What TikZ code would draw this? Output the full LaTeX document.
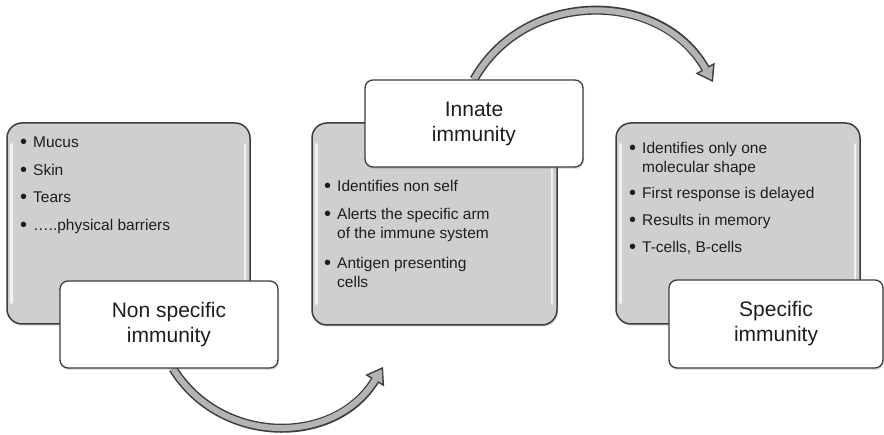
\documentclass[tikz,border=0pt]{standalone}
\usepackage{fontspec}
\setmainfont{Liberation Sans}
\usetikzlibrary{arrows.meta,shadows,backgrounds}
\definecolor{boxgray}{HTML}{CFCFCF}
\definecolor{edge}{HTML}{3C3C3C}
\definecolor{arrgray}{HTML}{B4B4B4}
\definecolor{txt}{HTML}{1E1E1E}
\newcommand\bul{\llap{\raisebox{-0.8pt}{\fontsize{20}{20}\selectfont\textbullet}\hspace{6pt}}}
\begin{document}
\begin{tikzpicture}[x=1pt,y=-1pt,
  graybox/.style={draw=edge, line width=1.5pt, fill=boxgray, rounded corners=15pt, inner sep=0pt,
    drop shadow={opacity=0.18, shadow xshift=1pt, shadow yshift=-2pt}},
  labelbox/.style={draw=edge, line width=1.3pt, fill=white, rounded corners=8pt, align=center,
    inner sep=0pt, font=\fontsize{21}{25}\selectfont, text=txt,
    drop shadow={opacity=0.25, shadow xshift=1pt, shadow yshift=-2pt}},
  item/.style={anchor=base west, inner sep=0pt, font=\fontsize{15.5}{18.5}\selectfont, text=txt},
  hilite/.style={draw=white, line width=2.5pt, opacity=0.75, line cap=round},
  arrout/.style={draw=edge, line width=9pt, -{Triangle[length=16pt,width=22pt,line width=0pt]}},
  arrin/.style={draw=arrgray, line width=6pt, shorten >=2.6pt, -{Triangle[length=11.9pt,width=16.4pt,line width=0pt]}}]
\useasboundingbox (0,0) rectangle (884,435);

% gray panels
\node[graybox, minimum width=243pt, minimum height=201pt] (L) at (128.5,223.5) {};
\node[graybox, minimum width=245pt, minimum height=202pt] (M) at (434.5,224) {};
\node[graybox, minimum width=244pt, minimum height=201pt] (R) at (738,223.5) {};
\foreach \b in {L,M,R}{
  \draw[hilite] ([xshift=5pt,yshift=-22pt]\b.north west) -- ([xshift=5pt,yshift=22pt]\b.south west);
  \draw[hilite] ([xshift=-6pt,yshift=-22pt]\b.north east) -- ([xshift=-6pt,yshift=22pt]\b.south east);
}

% bullet texts
\node[item] (l1) at (33,148) {\bul Mucus};
\node[item] (l2) at (33,176) {\bul Skin};
\node[item] (l3) at (33,203) {\bul Tears};
\node[item] (l4) at (33,231) {\bul …..physical barriers};

\node[item] (m1) at (337,192) {\bul Identifies non self};
\node[item] (m2) at (337,220) {\bul Alerts the specific arm};
\node[item] (m2b) at (337,238.5) {of the immune system};
\node[item] (m3) at (337,269) {\bul Antigen presenting};
\node[item] (m3b) at (337,288) {cells};

\node[item] (r1) at (642,154) {\bul Identifies only one};
\node[item] (r1b) at (642,173) {molecular shape};
\node[item] (r2) at (642,199) {\bul First response is delayed};
\node[item] (r3) at (642,226) {\bul Results in memory};
\node[item] (r4) at (642,253) {\bul T-cells, B-cells};

% label boxes
\node[labelbox, minimum width=218pt, minimum height=87pt] (ns) at (169,324.5) {Non specific\\immunity};
\node[labelbox, minimum width=218pt, minimum height=87pt] (inn) at (474,123.5) {Innate\\immunity};
\node[labelbox, minimum width=214pt, minimum height=88pt] (sp) at (776,324) {Specific\\immunity};

\coordinate (bend) at (383,367);
\coordinate (tend) at (713,82);

\begin{scope}[on background layer]
\fill[white] (0,0) rectangle (884,435);
\draw[arrout] ([xshift=4pt]ns.south) .. controls (221,446) and (335,446) .. (bend);
\draw[arrin]  ([xshift=4pt]ns.south) .. controls (221,446) and (335,446) .. (bend);
\draw[arrout] (inn.north) .. controls (526,-12) and (661,-10) .. (tend);
\draw[arrin]  (inn.north) .. controls (526,-12) and (661,-10) .. (tend);
\end{scope}
\end{tikzpicture}
\end{document}
